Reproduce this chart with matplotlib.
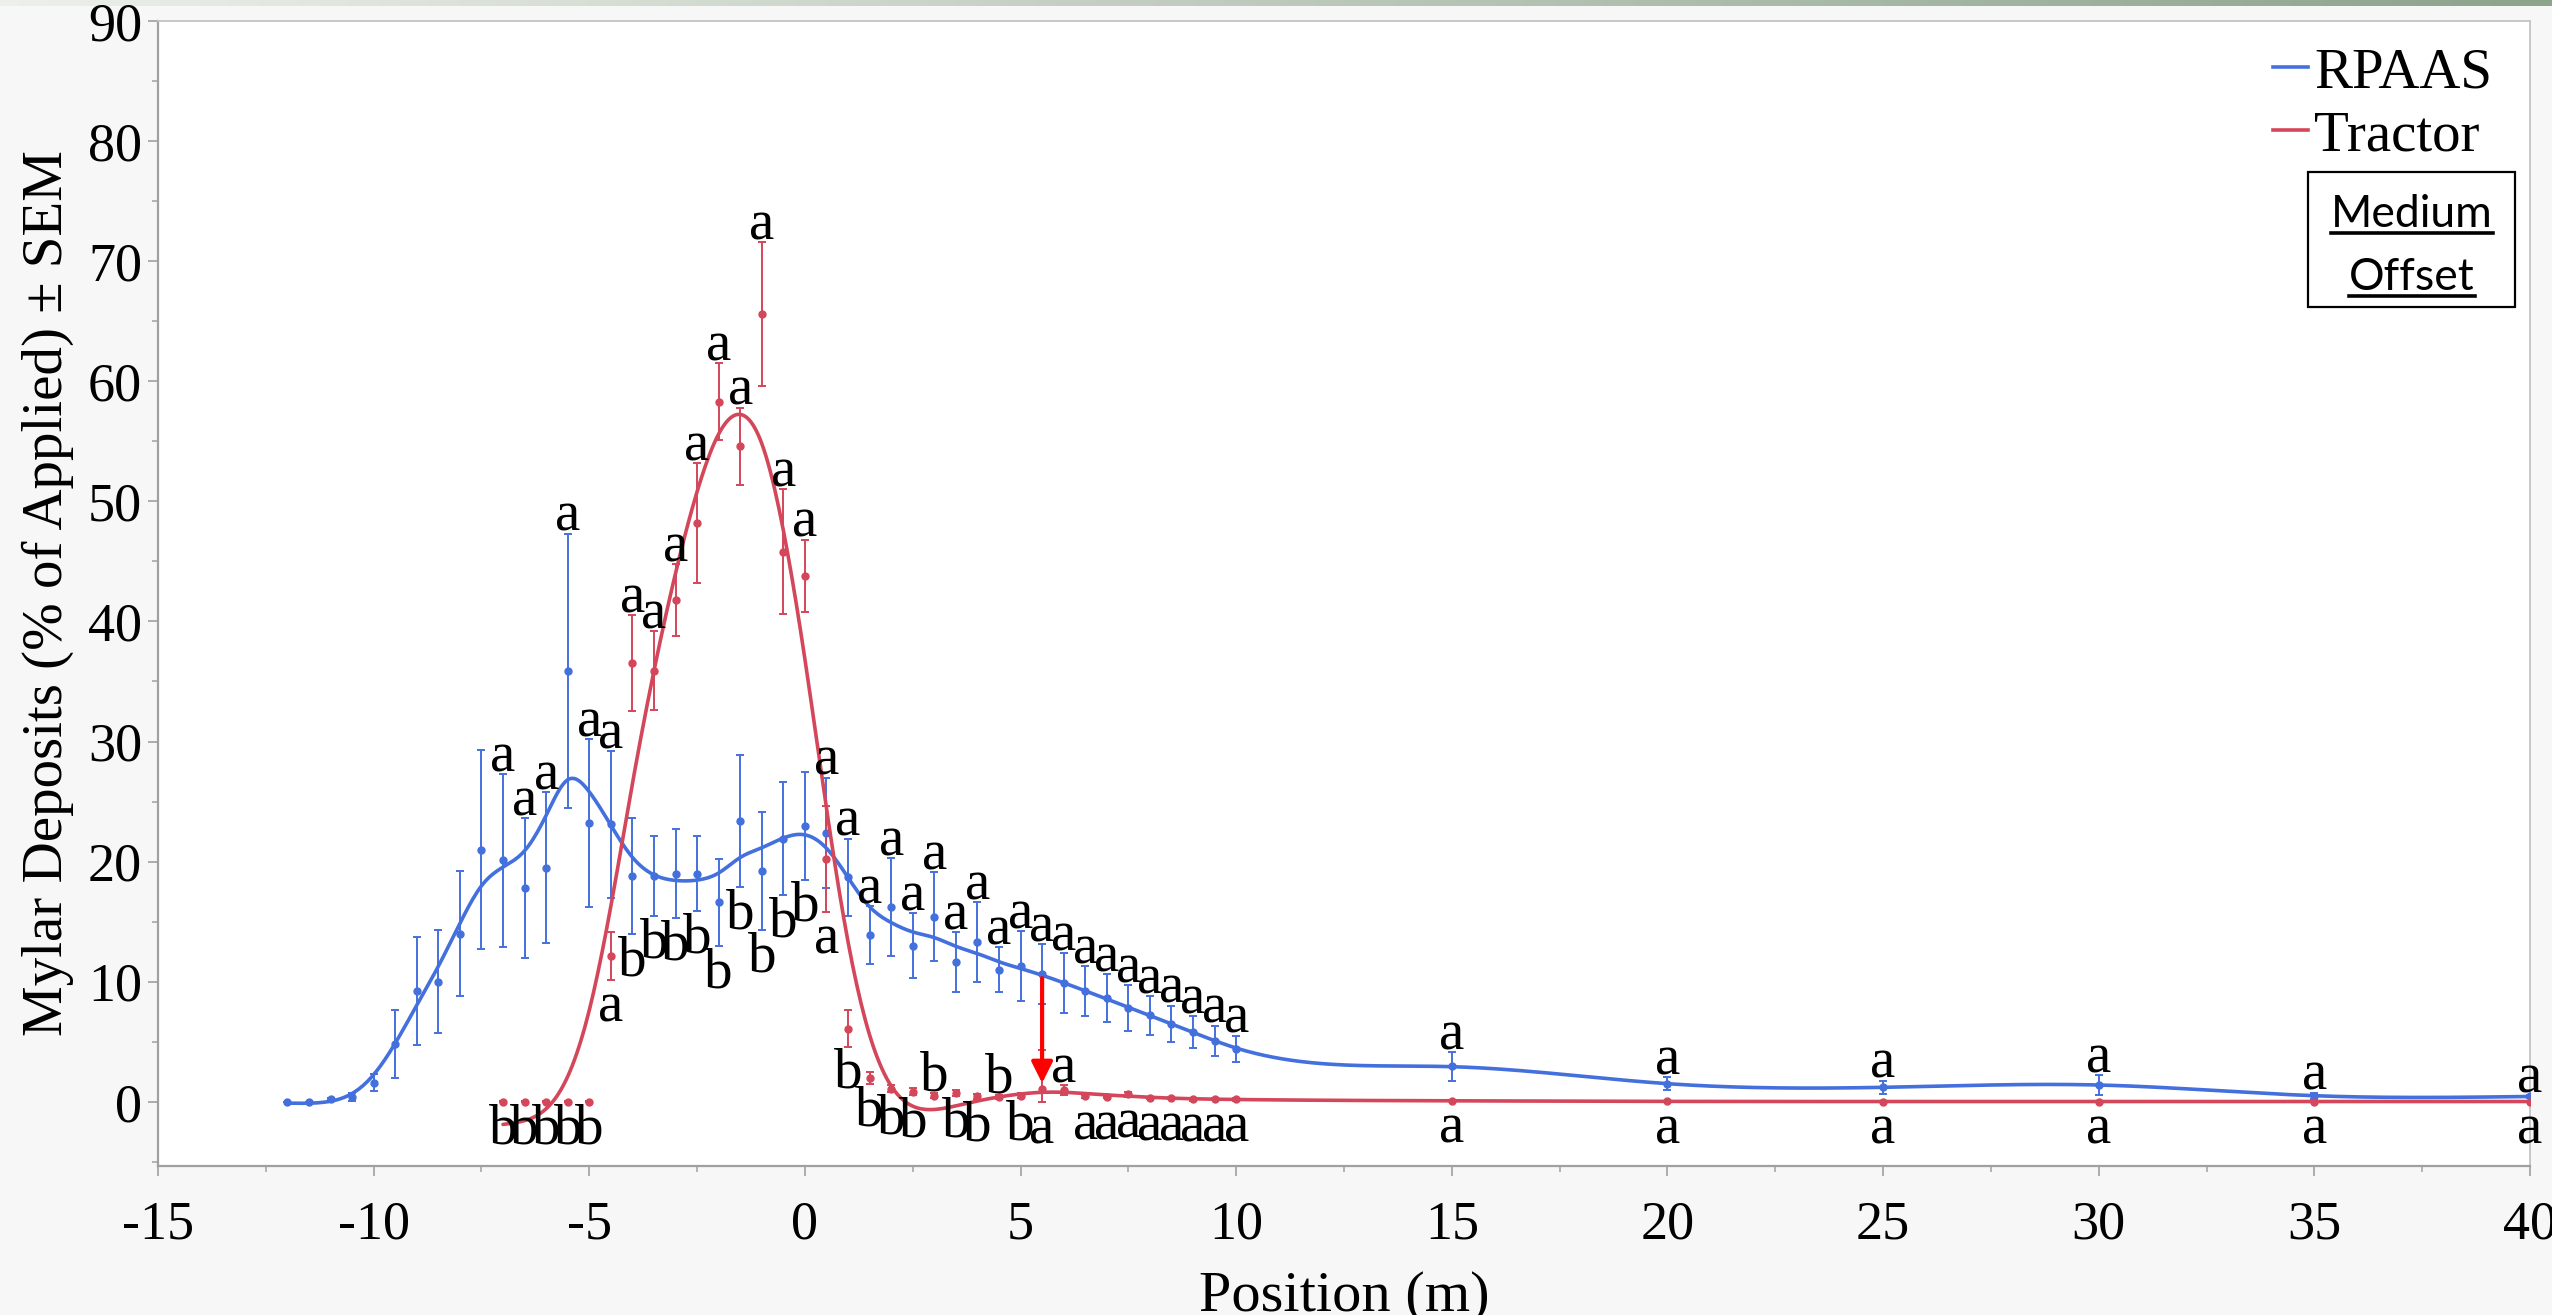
import numpy as np
import matplotlib
matplotlib.use("Agg")
import matplotlib.pyplot as plt
from matplotlib.lines import Line2D
from matplotlib.patches import Rectangle
from matplotlib.ticker import MultipleLocator

plt.rcParams['font.family'] = ['Liberation Serif', 'DejaVu Serif']
plt.rcParams['axes.unicode_minus'] = False

# ---------------- data ----------------
rpaas_x = [-12, -11.5, -11, -10.5, -10, -9.5, -9, -8.5, -8, -7.5,
           -7, -6.5, -6, -5.5, -5, -4.5, -4, -3.5, -3, -2.5, -2, -1.5, -1, -0.5, 0,
           0.5, 1, 1.5, 2, 2.5, 3, 3.5, 4, 4.5, 5, 5.5, 6, 6.5, 7, 7.5, 8, 8.5, 9, 9.5, 10,
           15, 20, 25, 30, 35, 40]
rpaas_mean = [0.0, 0.0, 0.25, 0.4, 1.6, 4.8, 9.2, 10.0, 14.0, 21.0,
              20.1, 17.8, 19.5, 35.9, 23.2, 23.1, 18.8, 18.8, 19.0, 19.0, 16.6, 23.4, 19.2, 21.9, 23.0,
              22.4, 18.7, 13.9, 16.2, 13.0, 15.4, 11.6, 13.3, 11.0, 11.3, 10.6, 9.9, 9.2, 8.6, 7.8,
              7.2, 6.5, 5.8, 5.1, 4.4,
              2.94, 1.5, 1.2, 1.4, 0.5, 0.44]
rpaas_sem = [0.0, 0.0, 0.1, 0.3, 0.7, 2.8, 4.5, 4.3, 5.2, 8.3,
             7.2, 5.8, 6.3, 11.4, 7.0, 6.1, 4.8, 3.3, 3.7, 3.1, 3.6, 5.5, 4.9, 4.7, 4.5,
             4.6, 3.2, 2.4, 4.1, 2.7, 3.7, 2.5, 3.3, 1.9, 2.9, 2.5, 2.5, 2.1, 2.0, 1.9,
             1.6, 1.5, 1.35, 1.25, 1.1,
             1.2, 0.55, 0.55, 0.8, 0.25, 0.1]
rpaas_letters = ['', '', '', '', '', '', '', '', '', '',
                 'a', 'a', 'a', 'a', 'a', 'a', 'b', 'b', 'b', 'b', 'b', 'b', 'b', 'b', 'b',
                 'a', 'a', 'a', 'a', 'a', 'a', 'a', 'a', 'a', 'a', 'a', 'a', 'a', 'a', 'a',
                 'a', 'a', 'a', 'a', 'a',
                 'a', 'a', 'a', 'a', 'a', 'a']
rpaas_side = ['', '', '', '', '', '', '', '', '', '',
              'u', 'u', 'u', 'u', 'u', 'u', 'd', 'd', 'd', 'd', 'd', 'd', 'd', 'd', 'd',
              'u', 'u', 'u', 'u', 'u', 'u', 'u', 'u', 'u', 'u', 'u', 'u', 'u', 'u', 'u',
              'u', 'u', 'u', 'u', 'u',
              'u', 'u', 'u', 'u', 'u', 'u']

tractor_x = [-7, -6.5, -6, -5.5, -5, -4.5, -4, -3.5, -3, -2.5, -2, -1.5, -1, -0.5, 0,
             0.5, 1, 1.5, 2, 2.5, 3, 3.5, 4, 4.5, 5, 5.5, 6, 6.5, 7, 7.5, 8, 8.5, 9, 9.5, 10,
             15, 20, 25, 30, 35, 40]
tractor_mean = [0.0, 0.0, 0.0, 0.0, 0.0, 12.1, 36.5, 35.9, 41.8, 48.2, 58.3, 54.6, 65.6, 45.8, 43.8,
                20.2, 6.1, 2.0, 1.1, 0.85, 0.5, 0.77, 0.44, 0.4, 0.5, 1.1, 0.99, 0.44, 0.38, 0.63,
                0.3, 0.3, 0.2, 0.25, 0.2,
                0.08, 0.03, 0.02, 0.02, 0.02, 0.02]
tractor_sem = [0.05, 0.05, 0.05, 0.05, 0.05, 2.0, 4.0, 3.3, 3.0, 5.0, 3.2, 3.2, 6.0, 5.2, 3.0,
               4.4, 1.5, 0.5, 0.3, 0.3, 0.2, 0.25, 0.2, 0.15, 0.2, 3.2, 0.4, 0.15, 0.1, 0.2,
               0.1, 0.1, 0.1, 0.1, 0.1,
               0.05, 0.05, 0.05, 0.05, 0.05, 0.05]
tractor_letters = ['b', 'b', 'b', 'b', 'b', 'a', 'a', 'a', 'a', 'a', 'a', 'a', 'a', 'a', 'a',
                   'a', 'b', 'b', 'b', 'b', 'b', 'b', 'b', 'b', 'b', 'a', 'a', 'a', 'a', 'a',
                   'a', 'a', 'a', 'a', 'a',
                   'a', 'a', 'a', 'a', 'a', 'a']
tractor_side = ['d', 'd', 'd', 'd', 'd', 'd', 'u', 'u', 'u', 'u', 'u', 'u', 'u', 'u', 'u',
                'd', 'd', 'd', 'd', 'd', 'u', 'd', 'd', 'u', 'd', 'd', 'u', 'd', 'd', 'd',
                'd', 'd', 'd', 'd', 'd',
                'd', 'd', 'd', 'd', 'd', 'd']

series_names = ['RPAAS', 'Tractor']
arrow_at = 5.5
panel_note = ['Medium', 'Offset']

x_ticks = [-15, -10, -5, 0, 5, 10, 15, 20, 25, 30, 35, 40]
y_ticks = [0, 10, 20, 30, 40, 50, 60, 70, 80, 90]

# ---------------- style ----------------
BLUE = '#4470dd'
RED = '#d4465a'
W, H = 2552, 1315


def smooth_curve(x, y, lam, h=0.05):
    """Penalised (cubic-spline-like) smoother evaluated on a fine grid."""
    x = np.asarray(x, float)
    y = np.asarray(y, float)
    g = np.arange(x.min(), x.max() + h / 2, h)
    n = g.size
    idx = np.rint((x - g[0]) / h).astype(int)
    w = np.zeros(n)
    z = np.zeros(n)
    w[idx] = 1.0
    z[idx] = y
    D = np.diff(np.eye(n), 2, axis=0)
    A = np.diag(w) + (lam / h ** 3) * (D.T @ D)
    f = np.linalg.solve(A, w * z)
    return g, f


fig = plt.figure(figsize=(W / 100, H / 100), dpi=100, facecolor='#f7f7f7')

# thin greenish header strip at the very top
gax = fig.add_axes([0, 1 - 6 / H, 1, 6 / H])
c0 = np.array([0.93, 0.94, 0.92])
c1 = np.array([0.55, 0.64, 0.55])
t = np.linspace(0, 1, 256)[None, :, None]
gax.imshow(c0 + (c1 - c0) * t, aspect='auto', extent=[0, 1, 0, 1])
gax.set_axis_off()

ax = fig.add_axes([158 / W, 1 - 1166 / H, (2530 - 158) / W, (1166 - 21) / H])
ax.set_facecolor('white')
ax.set_xlim(-15, 40)
ax.set_ylim(-5.35, 90)

for xs, ms, ss, col, lam in [(rpaas_x, rpaas_mean, rpaas_sem, BLUE, 0.1),
                             (tractor_x, tractor_mean, tractor_sem, RED, 0.4)]:
    m = np.asarray(ms, float)
    s = np.asarray(ss, float)
    lower = np.minimum(s, m)
    ax.errorbar(xs, m, yerr=[lower, s], fmt='o', ms=5, color=col, ecolor=col,
                elinewidth=1.4, capsize=3.2, capthick=1.4, zorder=3)
    gx, gy = smooth_curve(xs, m, lam)
    ax.plot(gx, gy, color=col, lw=2.6, zorder=4, solid_capstyle='round')

# significance letters
for xs, ms, ss, lets, sides in [(rpaas_x, rpaas_mean, rpaas_sem, rpaas_letters, rpaas_side),
                                (tractor_x, tractor_mean, tractor_sem, tractor_letters, tractor_side)]:
    for xv, mv, sv, lt, sd in zip(xs, ms, ss, lets, sides):
        if not lt:
            continue
        if sd == 'u':
            ax.annotate(lt, (xv, mv + sv), xytext=(0, 2), textcoords='offset points',
                        ha='center', va='baseline', fontsize=41, color='black', zorder=6)
        else:
            ax.annotate(lt, (xv, mv - min(sv, mv)), xytext=(0, -1), textcoords='offset points',
                        ha='center', va='top', fontsize=41, color='black', zorder=6)

# red arrow from RPAAS mean to Tractor mean at the highlighted position
ia = rpaas_x.index(arrow_at)
it = tractor_x.index(arrow_at)
ax.annotate('', xy=(arrow_at, tractor_mean[it] + 0.45), xytext=(arrow_at, rpaas_mean[ia] - 0.3),
            arrowprops=dict(arrowstyle='-|>', color='red', lw=3.0, mutation_scale=32,
                            shrinkA=0, shrinkB=0), zorder=7)

# axes styling
ax.set_xticks(x_ticks)
ax.set_yticks(y_ticks)
ax.xaxis.set_minor_locator(MultipleLocator(2.5))
ax.yaxis.set_minor_locator(MultipleLocator(5))
ax.tick_params(axis='both', which='major', direction='out', length=7.5, width=1.2,
               color='#a0a0a0', labelsize=39, labelcolor='black')
ax.tick_params(axis='both', which='minor', direction='out', length=4.5, width=1.1,
               color='#a0a0a0')
ax.tick_params(axis='x', which='major', pad=17)
ax.tick_params(axis='y', which='major', pad=4)
for sp in ['left', 'bottom']:
    ax.spines[sp].set_color('#a0a0a0')
    ax.spines[sp].set_linewidth(1.6)
for sp in ['top', 'right']:
    ax.spines[sp].set_color('#c4c4c4')
    ax.spines[sp].set_linewidth(1.3)

ax.set_xlabel('Position (m)', fontsize=42)
ax.xaxis.set_label_coords(0.5, -0.1266)
ax.xaxis.label.set_verticalalignment('baseline')
ax.set_ylabel('Mylar Deposits (% of Applied) \u00b1 SEM', fontsize=41)
ax.yaxis.set_label_coords(-0.0464, 0.5)
ax.yaxis.label.set_verticalalignment('center')

# legend
handles = [Line2D([], [], color=BLUE, lw=2.6), Line2D([], [], color=RED, lw=2.6)]
ax.legend(handles, series_names, loc='upper left', bbox_to_anchor=(2273 / W, 1 - 47 / H),
          bbox_transform=fig.transFigure, frameon=False, fontsize=41, handlelength=0.62,
          handletextpad=0.1, borderpad=0, borderaxespad=0, labelspacing=0.2)

# "Medium Offset" box
fig.add_artist(Rectangle((2308 / W, 1 - 307 / H), (2515 - 2308) / W, (307 - 172) / H,
                         transform=fig.transFigure, fill=False, ec='black', lw=1.6, zorder=10))
note_texts = []
for txt, base in zip(panel_note, [227, 290]):
    note_texts.append(fig.text(2412 / W, 1 - base / H, txt, ha='center', va='baseline',
                               fontsize=32, family=['Lato', 'DejaVu Sans'], zorder=11))

fig.canvas.draw()
renderer = fig.canvas.get_renderer()
for tt, base in zip(note_texts, [227, 290]):
    bb = tt.get_window_extent(renderer)
    yline = 1 - (base + 6) / H
    fig.add_artist(Line2D([bb.x0 / W, bb.x1 / W], [yline, yline], transform=fig.transFigure,
                          color='black', lw=2.6, zorder=11))

fig.savefig('out.png', dpi=100, facecolor=fig.get_facecolor())
